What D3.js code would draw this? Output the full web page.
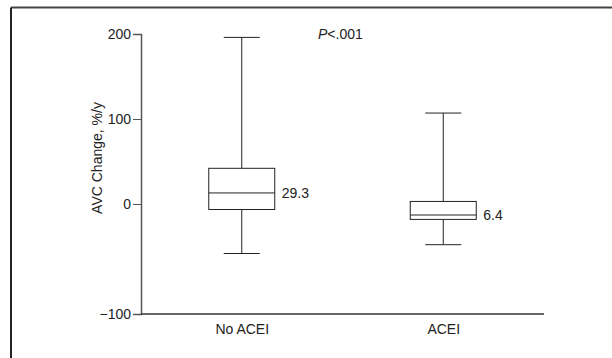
<!DOCTYPE html>
<html>
<head>
<meta charset="utf-8">
<script src="https://cdn.jsdelivr.net/npm/d3@7"></script>
<style>
  body { margin: 0; background: #fff; }
  svg text { font-family: "Liberation Sans", Arial, sans-serif; fill: #222; }
</style>
</head>
<body>
<svg id="chart"></svg>
<script>
const categories = ["No ACEI", "ACEI"];
const whiskerLow = [-45, -37];
const q1 = [-5, -14];
const medians = [13, -10];
const q3 = [42, 3];
const whiskerHigh = [196, 107];
const meanLabels = ["29.3", "6.4"];
const yTicks = [-100, 0, 100, 200];
const pLabel = "<.001";

const width = 612, height = 358;
const svg = d3.select("#chart").attr("width", width).attr("height", height);

// outer frame: only top and left edges show
svg.append("line").attr("x1", 11).attr("y1", 7.5).attr("x2", width).attr("y2", 7.5)
  .style("stroke", "#444").style("stroke-width", 2);
svg.append("line").attr("x1", 11).attr("y1", 7.5).attr("x2", 11).attr("y2", height)
  .style("stroke", "#222").style("stroke-width", 2);

const xScale = d3.scalePoint().domain(categories).range([141, 544]).padding(0.5);
// the axis is not evenly spaced below zero in the source
const yScale = d3.scaleLinear().domain([-100, 0, 200]).range([314, 204, 34]);

// y axis
const yAxis = d3.axisLeft(yScale).tickValues(yTicks)
  .tickFormat(d => d < 0 ? "\u2212" + Math.abs(d) : d)
  .tickSize(8).tickPadding(2);
const yg = svg.append("g").attr("transform", "translate(141,0)").call(yAxis);
yg.select(".domain").style("stroke", "#555").style("stroke-width", 1.5);
yg.selectAll(".tick line").style("stroke", "#555");
yg.selectAll("text").style("font-size", "14px").attr("fill", "#222");

// x axis
const xAxis = d3.axisBottom(xScale).tickSize(0).tickPadding(10);
const xg = svg.append("g").attr("transform", "translate(0,314)").call(xAxis);
xg.select(".domain").attr("d", "M141,0H544").style("stroke", "#333").style("stroke-width", 1.5);
xg.selectAll("text").style("font-size", "14px").attr("fill", "#222");

// y label
svg.append("text")
  .attr("transform", "translate(102,158) rotate(-90)")
  .attr("text-anchor", "middle")
  .style("font-size", "14px")
  .text("AVC Change, %/y");

// P value
const p = svg.append("text").attr("x", 318).attr("y", 39).style("font-size", "14px");
p.append("tspan").style("font-style", "italic").text("P");
p.append("tspan").text(pLabel);

// boxes
const boxW = 66, capW = 36;
const groups = svg.selectAll(".box")
  .data(categories.map((c, i) => ({ c, i })))
  .enter().append("g").attr("class", "box");

groups.append("line")
  .attr("x1", d => xScale(d.c)).attr("x2", d => xScale(d.c))
  .attr("y1", d => yScale(whiskerHigh[d.i])).attr("y2", d => yScale(whiskerLow[d.i]))
  .style("stroke", "#222");
groups.append("line")
  .attr("x1", d => xScale(d.c) - capW / 2).attr("x2", d => xScale(d.c) + capW / 2)
  .attr("y1", d => yScale(whiskerHigh[d.i])).attr("y2", d => yScale(whiskerHigh[d.i]))
  .style("stroke", "#222");
groups.append("line")
  .attr("x1", d => xScale(d.c) - capW / 2).attr("x2", d => xScale(d.c) + capW / 2)
  .attr("y1", d => yScale(whiskerLow[d.i])).attr("y2", d => yScale(whiskerLow[d.i]))
  .style("stroke", "#222");
groups.append("rect")
  .attr("x", d => xScale(d.c) - boxW / 2).attr("width", boxW)
  .attr("y", d => yScale(q3[d.i]))
  .attr("height", d => yScale(q1[d.i]) - yScale(q3[d.i]))
  .style("fill", "#fff").style("stroke", "#222");
groups.append("line")
  .attr("x1", d => xScale(d.c) - boxW / 2).attr("x2", d => xScale(d.c) + boxW / 2)
  .attr("y1", d => yScale(medians[d.i])).attr("y2", d => yScale(medians[d.i]))
  .style("stroke", "#222");
groups.append("text")
  .attr("x", d => xScale(d.c) + boxW / 2 + 7)
  .attr("y", d => yScale(medians[d.i]))
  .attr("dy", "0.35em")
  .style("font-size", "14px")
  .text(d => meanLabels[d.i]);
</script>
</body>
</html>
